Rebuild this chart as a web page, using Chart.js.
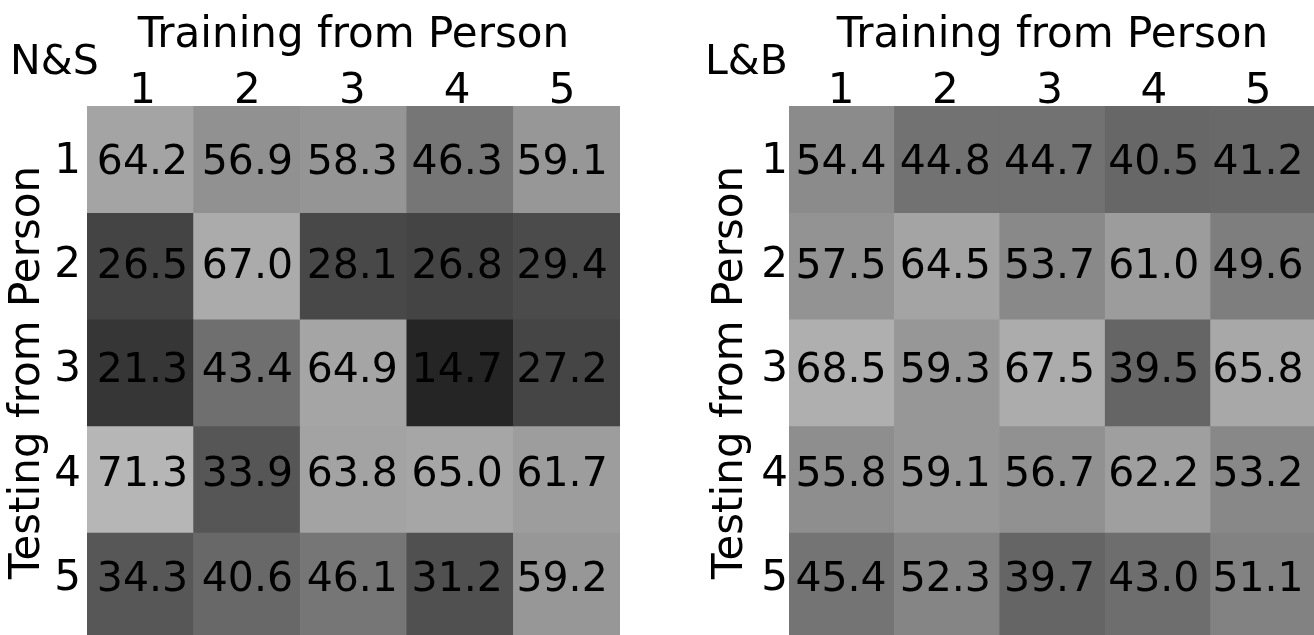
<!DOCTYPE html>
<html>
<head>
<meta charset="utf-8">
<script src="https://cdn.jsdelivr.net/npm/chart.js@4.4.1/dist/chart.umd.min.js"></script>
<style>
  html, body { margin: 0; padding: 0; background: #fff; overflow: hidden; }
  .panel { position: absolute; top: 0; height: 640px; }
  #left { left: 0; width: 625px; }
  #right { left: 700px; width: 620px; }
</style>
</head>
<body>
<div class="panel" id="left"><canvas id="nsChart"></canvas></div>
<div class="panel" id="right"><canvas id="lbChart"></canvas></div>
<script>
// columns = person used for training, rows = person used for testing
const trainLabels = ['1', '2', '3', '4', '5'];
const testLabels = ['1', '2', '3', '4', '5'];

const nsAccuracy = [
  [64.2, 56.9, 58.3, 46.3, 59.1],
  [26.5, 67.0, 28.1, 26.8, 29.4],
  [21.3, 43.4, 64.9, 14.7, 27.2],
  [71.3, 33.9, 63.8, 65.0, 61.7],
  [34.3, 40.6, 46.1, 31.2, 59.2]
];

const lbAccuracy = [
  [54.4, 44.8, 44.7, 40.5, 41.2],
  [57.5, 64.5, 53.7, 61.0, 49.6],
  [68.5, 59.3, 67.5, 39.5, 65.8],
  [55.8, 59.1, 56.7, 62.2, 53.2],
  [45.4, 52.3, 39.7, 43.0, 51.1]
];

const FONT = 'DejaVu Sans';
const SIZE = 41;
const AXIS_SIZE = 42;
Chart.defaults.font.family = FONT;
Chart.defaults.color = '#000';

// gray colormap, 0 -> black, 100 -> white
function grayOf(v) {
  const g = Math.round(v * 2.55);
  return `rgb(${g},${g},${g})`;
}

function buildDatasets(values) {
  return values.map((row, r) => ({
    label: 'Test ' + testLabels[r],
    data: row.map(() => [r, r + 1]),
    values: row,
    backgroundColor: row.map(grayOf),
    borderWidth: 0,
    barPercentage: 1,
    categoryPercentage: 1
  }));
}

// numbers sit on the (slightly tighter) label grid of the visible axes
const cellText = {
  id: 'cellText',
  afterDatasetsDraw(chart) {
    const ctx = chart.ctx;
    const xs = chart.scales.xt, ys = chart.scales.yt;
    ctx.save();
    ctx.font = `${SIZE}px "${FONT}"`;
    ctx.fillStyle = '#000';
    ctx.textAlign = 'center';
    ctx.textBaseline = 'middle';
    chart.data.datasets.forEach((ds, r) => {
      ds.values.forEach((v, c) => {
        ctx.fillText(v.toFixed(1), xs.getPixelForValue(c), ys.getPixelForValue(r) + 3);
      });
    });
    ctx.restore();
  }
};

const cornerTag = {
  id: 'cornerTag',
  afterDraw(chart, args, opts) {
    const ctx = chart.ctx;
    ctx.save();
    ctx.font = `${SIZE}px "${FONT}"`;
    ctx.fillStyle = '#000';
    ctx.textAlign = 'left';
    ctx.textBaseline = 'middle';
    ctx.fillText(opts.text, opts.x, opts.y);
    ctx.restore();
  }
};

function renderHeatmap(canvasId, values, cfg) {
  const ctx = document.getElementById(canvasId).getContext('2d');
  new Chart(ctx, {
    type: 'bar',
    data: {
      labels: trainLabels,
      datasets: buildDatasets(values)
    },
    plugins: [cellText, cornerTag],
    options: {
      responsive: true,
      maintainAspectRatio: false,
      animation: false,
      layout: { padding: { left: 0, right: cfg.rightPad, top: 0, bottom: 1 } },
      plugins: {
        legend: { display: false },
        tooltip: { enabled: false },
        cornerTag: cfg.tag
      },
      scales: {
        // cell scales (hidden)
        x: {
          type: 'category',
          display: false,
          stacked: true,
          offset: true
        },
        y: {
          type: 'linear',
          display: false,
          min: 0,
          max: 5,
          reverse: true,
          stacked: false
        },
        // visible label scales
        xt: {
          type: 'linear',
          position: 'top',
          bounds: 'data',
          offset: false,
          beginAtZero: false,
          min: cfg.xRange[0],
          max: cfg.xRange[1],
          grid: { display: false, drawTicks: false, offset: false },
          border: { display: false },
          afterBuildTicks: s => { s.ticks = trainLabels.map((l, i) => ({ value: i })); },
          ticks: {
            padding: -11,
            maxRotation: 0,
            autoSkip: false,
            font: { size: AXIS_SIZE },
            callback: (v, i) => trainLabels[i]
          },
          title: {
            display: true,
            text: 'Training from Person',
            font: { size: AXIS_SIZE },
            padding: { top: 11, bottom: 0 }
          },
          afterFit: s => { s.height = 106; s.paddingLeft = 0; s.paddingRight = 0; }
        },
        yt: {
          type: 'linear',
          position: 'left',
          bounds: 'data',
          offset: false,
          beginAtZero: false,
          min: cfg.yRange[0],
          max: cfg.yRange[1],
          reverse: true,
          grid: { display: false, drawTicks: false },
          border: { display: false },
          afterBuildTicks: s => { s.ticks = testLabels.map((l, i) => ({ value: i })); },
          ticks: {
            autoSkip: false,
            padding: cfg.yPad,
            labelOffset: 2,
            font: { size: AXIS_SIZE },
            callback: (v, i) => testLabels[i]
          },
          title: {
            display: true,
            text: 'Testing from Person',
            font: { size: AXIS_SIZE },
            padding: { top: cfg.titlePad, bottom: 0 }
          },
          afterFit: s => { s.width = cfg.yWidth; s.paddingTop = 0; s.paddingBottom = 0; }
        }
      }
    }
  });
}

renderHeatmap('nsChart', nsAccuracy, {
  tag: { text: 'N&S', x: 10, y: 63 },
  xRange: [-0.529, 4.552], yRange: [-0.518, 4.595],
  yWidth: 87, yPad: 6, titlePad: 3, rightPad: 5
});
renderHeatmap('lbChart', lbAccuracy, {
  tag: { text: 'L&B', x: 5, y: 63 },
  xRange: [-0.499, 4.556], yRange: [-0.518, 4.595],
  yWidth: 89, yPad: 1, titlePad: 6, rightPad: 4
});
</script>
</body>
</html>
